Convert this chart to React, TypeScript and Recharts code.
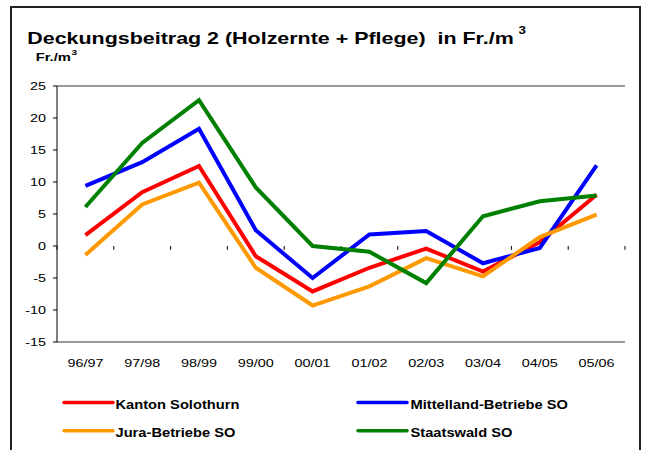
import React from 'react';
import { LineChart, Line, XAxis, YAxis, CartesianGrid, ReferenceLine, Legend } from 'recharts';

const categories = ['96/97', '97/98', '98/99', '99/00', '00/01', '01/02', '02/03', '03/04', '04/05', '05/06'];
const kantonSolothurn = [1.7, 8.4, 12.5, -1.6, -7.1, -3.4, -0.4, -4.0, 0.6, 8.0];
const mittellandBetriebe = [9.4, 13.1, 18.3, 2.45, -5.0, 1.8, 2.35, -2.7, -0.3, 12.6];
const juraBetriebe = [-1.4, 6.5, 9.9, -3.4, -9.3, -6.3, -1.9, -4.75, 1.4, 4.9];
const staatswald = [6.1, 16.1, 22.8, 9.15, 0, -0.9, -5.8, 4.65, 7.0, 7.9];
const yTicks = [-15, -10, -5, 0, 5, 10, 15, 20, 25];
const boundaryTicks = [0, 1, 2, 3, 4, 5, 6, 7, 8, 9, 10];

const series = [
  { key: 'kanton', name: 'Kanton Solothurn', color: '#FF0000', values: kantonSolothurn },
  { key: 'mittelland', name: 'Mittelland-Betriebe SO', color: '#0000FF', values: mittellandBetriebe },
  { key: 'jura', name: 'Jura-Betriebe SO', color: '#FF9900', values: juraBetriebe },
  { key: 'staatswald', name: 'Staatswald SO', color: '#008000', values: staatswald },
];

const data = categories.map((c, i) => {
  const row: any = { cat: c };
  series.forEach((s) => (row[s.key] = s.values[i]));
  return row;
});

const FONT = '"Liberation Sans", Arial, Helvetica, sans-serif';

const XTick = (props: any) => {
  const { x, y, payload } = props;
  return (
    <text transform={`translate(${x},${y}) scale(1.31,1)`} textAnchor="middle" dy="0.71em" fontSize={11} fontFamily={FONT} fill="#000">
      {payload.value}
    </text>
  );
};

const YTick = (props: any) => {
  const { x, y, payload } = props;
  return (
    <text transform={`translate(${x},${y}) scale(1.31,1)`} textAnchor="end" dy="0.355em" fontSize={11} fontFamily={FONT} fill="#000">
      {payload.value}
    </text>
  );
};

const legendPos = [
  { lx: 64, ly: 12.5, tx: 115.5, ty: 19 },
  { lx: 358, ly: 12.5, tx: 410.5, ty: 19 },
  { lx: 64, ly: 40.8, tx: 115.5, ty: 46.7 },
  { lx: 358, ly: 40.8, tx: 410.5, ty: 46.7 },
];

const LegendContent = () => (
  <svg width={648} height={56} style={{ display: 'block' }}>
    {series.map((s, i) => {
      const p = legendPos[i];
      return (
        <g key={s.key}>
          <line x1={p.lx} x2={p.lx + 49} y1={p.ly} y2={p.ly} stroke={s.color} strokeWidth={3.5} strokeLinecap="round" />
          <text transform={`translate(${p.tx},${p.ty}) scale(1.175,1)`} fontSize={12.5} fontWeight="bold" fontFamily={FONT} fill="#000">
            {s.name}
          </text>
        </g>
      );
    })}
  </svg>
);

export default function App() {
  return (
    <div style={{ position: 'absolute', left: 0, top: 0, width: 648, height: 450, background: '#fff', overflow: 'hidden' }}>
      <div style={{ position: 'absolute', left: 10, top: 6, width: 631, height: 470, border: '2px solid #222', boxSizing: 'border-box' }} />
      <div style={{ position: 'absolute', left: 0, top: 0 }}>
        <LineChart width={648} height={450} data={data} margin={{ top: 86, right: 23, bottom: 78, left: 0 }}>
          <CartesianGrid horizontal vertical={false} stroke="#333" strokeWidth={1} />
          <XAxis
            xAxisId="cat"
            dataKey="cat"
            type="category"
            padding={{ left: 28.4, right: 28.4 }}
            axisLine={false}
            tickLine={false}
            tickSize={0}
            tickMargin={17}
            interval={0}
            tick={<XTick />}
            height={30}
          />
          <XAxis xAxisId="num" type="number" dataKey="idx" domain={[0, 10]} allowDataOverflow hide height={0} />
          <YAxis
            yAxisId="y"
            type="number"
            domain={[-15, 25]}
            ticks={yTicks}
            interval={0}
            width={57}
            axisLine={{ stroke: '#000', strokeWidth: 1 }}
            tickLine={{ stroke: '#000' }}
            tickSize={4}
            tickMargin={7}
            tick={<YTick />}
          />
          {boundaryTicks.map((b) => (
            <ReferenceLine
              key={b}
              xAxisId="num"
              yAxisId="y"
              ifOverflow="visible"
              segment={[{ x: b, y: 0 }, { x: b, y: -0.6 }]}
              stroke="#000"
              strokeWidth={1}
            />
          ))}
          {series.map((s) => (
            <Line
              key={s.key}
              xAxisId="cat"
              yAxisId="y"
              dataKey={s.key}
              name={s.name}
              stroke={s.color}
              strokeWidth={4}
              dot={false}
              activeDot={false}
              isAnimationActive={false}
            />
          ))}
          <Legend
            layout="horizontal"
            verticalAlign="middle"
            align="center"
            content={<LegendContent />}
            wrapperStyle={{ position: 'absolute', left: 0, top: 390, width: 648, height: 56 }}
          />
        </LineChart>
      </div>
      <svg width={648} height={80} style={{ position: 'absolute', left: 0, top: 0, pointerEvents: 'none' }}>
        <text transform="translate(27.3,44) scale(1.34,1)" fontSize={16} fontWeight="bold" fontFamily={FONT} fill="#000" xmlSpace="preserve" style={{ whiteSpace: 'pre' }}>
          Deckungsbeitrag 2 (Holzernte + Pflege)  in Fr./m<tspan dx={3.5} dy={-10} fontSize={10}>3</tspan>
        </text>
        <text transform="translate(35.7,60.7) scale(1.34,1)" fontSize={11} fontWeight="bold" fontFamily={FONT} fill="#000">
          Fr./m<tspan dx={0.5} dy={-5.3} fontSize={7.5}>3</tspan>
        </text>
      </svg>
    </div>
  );
}
